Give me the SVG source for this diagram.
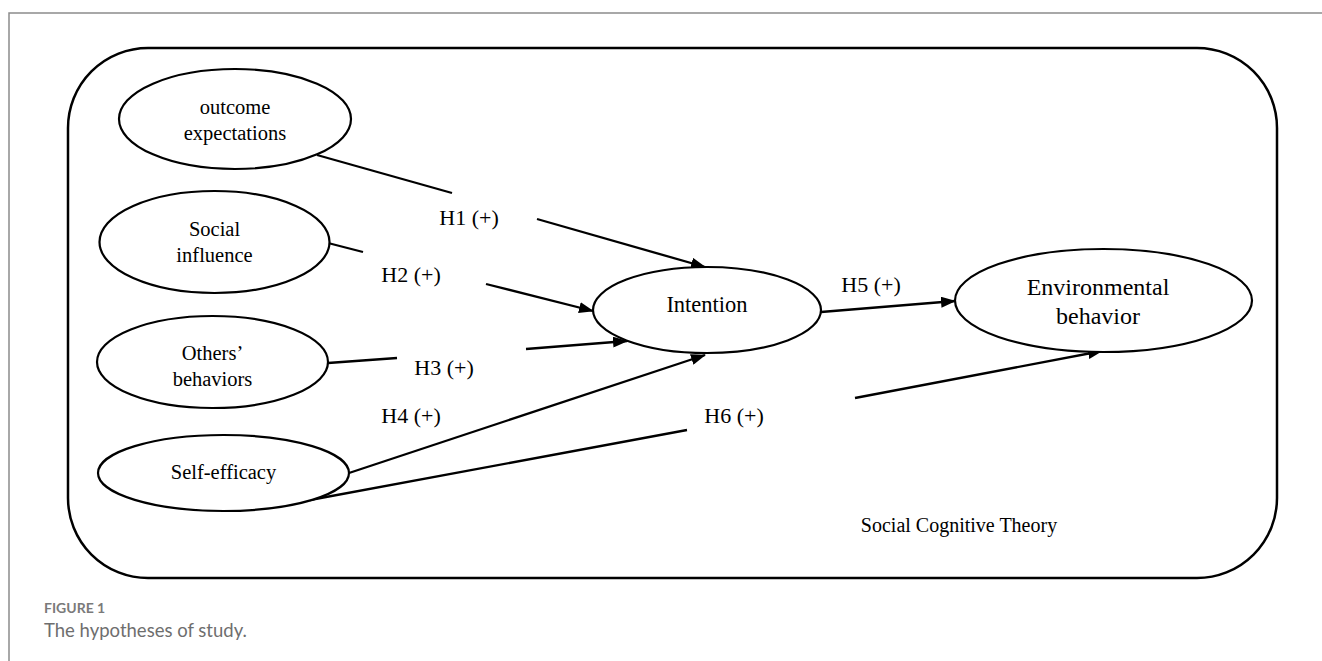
<svg xmlns="http://www.w3.org/2000/svg" width="1322" height="661" viewBox="0 0 1322 661">
<style>
.frame{fill:none;stroke:#8c8c8c;stroke-width:1.5}
.box{fill:none;stroke:#000;stroke-width:2.5}
.node{fill:#fff;stroke:#000;stroke-width:2.2}
.t{font-family:"Liberation Serif","Times New Roman",serif;fill:#000;text-anchor:middle}
.n{font-size:20.5px}
.h{font-size:22px}
.c{stroke:#000;stroke-width:2.3;fill:none}
.cap1{font-family:Lato,"Open Sans",sans-serif;font-weight:bold;font-size:14px;fill:#7a7a7a}
.cap2{font-family:Lato,"Open Sans",sans-serif;font-size:18.5px;fill:#6e6e6e}
</style>
<defs>
<marker id="ah" markerWidth="15" markerHeight="11" refX="14" refY="5.5" orient="auto" markerUnits="userSpaceOnUse">
<path d="M0,0 L15,5.5 L0,11 z" fill="#000"/>
</marker>
</defs>
<rect width="1322" height="661" fill="#fff"/>
<path class="frame" d="M9,661 L9,13 L1322,13"/>
<rect class="box" x="68" y="48" width="1209" height="530" rx="80" ry="80"/>

<g id="connectors">
<line class="c" x1="317" y1="155" x2="452" y2="193"/>
<line class="c" x1="537" y1="219" x2="705" y2="267" marker-end="url(#ah)"/>
<line class="c" x1="328" y1="243" x2="363" y2="252"/>
<line class="c" x1="486" y1="284" x2="593" y2="311" marker-end="url(#ah)"/>
<line class="c" x1="328" y1="363" x2="397" y2="358"/>
<line class="c" x1="526" y1="349" x2="627" y2="341" marker-end="url(#ah)"/>
<line class="c" x1="349" y1="473" x2="705" y2="355" marker-end="url(#ah)"/>
<line class="c" x1="310" y1="500" x2="687" y2="430"/>
<line class="c" x1="855" y1="398" x2="1102" y2="351" marker-end="url(#ah)"/>
<line class="c" x1="821" y1="312" x2="955" y2="301" marker-end="url(#ah)"/>
</g>

<g id="outcome-expectations">
<ellipse class="node" cx="235" cy="119" rx="116" ry="50"/>
<text class="t n" x="235" y="114">outcome</text>
<text class="t n" x="235" y="140">expectations</text>
</g>
<g id="social-influence">
<ellipse class="node" cx="214.5" cy="242" rx="115" ry="51"/>
<text class="t n" x="214.5" y="236">Social</text>
<text class="t n" x="214.5" y="262">influence</text>
</g>
<g id="others-behaviors">
<ellipse class="node" cx="212.5" cy="362" rx="115.5" ry="46"/>
<text class="t n" x="212.5" y="360">Others’</text>
<text class="t n" x="212.5" y="386">behaviors</text>
</g>
<g id="self-efficacy">
<ellipse class="node" cx="223.5" cy="473" rx="125.5" ry="38"/>
<text class="t n" x="223.5" y="479">Self-efficacy</text>
</g>
<g id="intention">
<ellipse class="node" cx="707" cy="310" rx="114" ry="43"/>
<text class="t" x="707" y="312" font-size="22.5">Intention</text>
</g>
<g id="environmental-behavior">
<ellipse class="node" cx="1103.5" cy="300.5" rx="148.5" ry="51.5"/>
<text class="t" x="1098" y="295" font-size="24">Environmental</text>
<text class="t" x="1098" y="324" font-size="24">behavior</text>
</g>

<g id="labels">
<text class="t h" x="469" y="225">H1 (+)</text>
<text class="t h" x="411" y="282">H2 (+)</text>
<text class="t h" x="444" y="375">H3 (+)</text>
<text class="t h" x="411" y="423">H4 (+)</text>
<text class="t h" x="871" y="292">H5 (+)</text>
<text class="t h" x="734" y="423">H6 (+)</text>
<text class="t" x="959" y="532" font-size="20">Social Cognitive Theory</text>
</g>

<text class="cap1" x="44" y="613">FIGURE 1</text>
<text class="cap2" x="44" y="637">The hypotheses of study.</text>
</svg>
